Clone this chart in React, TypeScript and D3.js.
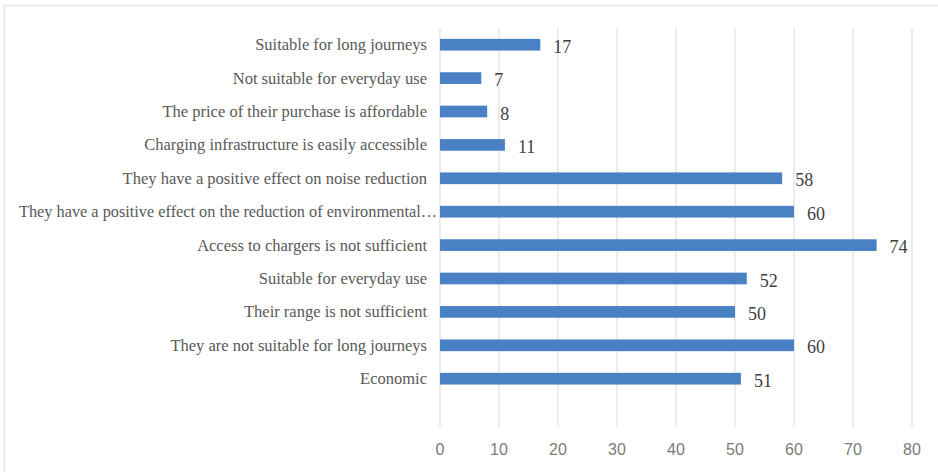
import { useEffect, useRef } from 'react'
import * as d3 from 'd3'

// categories listed top to bottom as they appear in the chart
const categories = [
  'Suitable for long journeys',
  'Not suitable for everyday use',
  'The price of their purchase is affordable',
  'Charging infrastructure is easily accessible',
  'They have a positive effect on noise reduction',
  'They have a positive effect on the reduction of environmental…',
  'Access to chargers is not sufficient',
  'Suitable for everyday use',
  'Their range is not sufficient',
  'They are not suitable for long journeys',
  'Economic',
]
const values = [17, 7, 8, 11, 58, 60, 74, 52, 50, 60, 51]
const xTicks = [0, 10, 20, 30, 40, 50, 60, 70, 80]

const W = 938
const H = 472

export default function App() {
  const ref = useRef<SVGSVGElement | null>(null)

  useEffect(() => {
    const el = ref.current
    if (!el) return
    const svg = d3.select(el)
    svg.selectAll('*').remove()

    const rows = categories.map((c, i) => ({ label: c, value: values[i] }))

    const x = d3.scaleLinear().domain([0, 80]).range([440, 912])
    const step = 33.4
    const top = 28
    const gridBottom = 427
    const y = d3
      .scaleBand<string>()
      .domain(categories)
      .range([top, top + categories.length * step])
      .paddingInner(0.65)
      .paddingOuter(0.325)

    // chart frame
    svg.append('rect')
      .attr('x', 4.5).attr('y', 5.5)
      .attr('width', W).attr('height', H)
      .attr('fill', '#fff')
      .attr('stroke', '#e4e4e4')
      .attr('stroke-width', 1.5)

    // vertical gridlines
    svg.append('g')
      .selectAll('line')
      .data(xTicks)
      .join('line')
      .attr('x1', d => x(d)).attr('x2', d => x(d))
      .attr('y1', top).attr('y2', gridBottom)
      .attr('stroke', '#d9d9d9')
      .attr('stroke-width', 1)

    // tick labels
    svg.append('g')
      .selectAll('text')
      .data(xTicks)
      .join('text')
      .attr('x', d => x(d))
      .attr('y', 455)
      .attr('text-anchor', 'middle')
      .attr('font-family', '"Liberation Sans", Arial, sans-serif')
      .attr('font-size', 16)
      .attr('fill', '#7a7a7a')
      .text(d => d)

    // bars
    svg.append('g')
      .selectAll('rect')
      .data(rows)
      .join('rect')
      .attr('x', x(0))
      .attr('y', d => y(d.label) || 0)
      .attr('width', d => x(d.value) - x(0))
      .attr('height', y.bandwidth())
      .attr('fill', '#4a80c4')

    // category labels (the truncated one is squeezed to fit like the original)
    const labels = svg.append('g')
      .selectAll('text')
      .data(rows)
      .join('text')
      .attr('x', 427)
      .attr('y', d => (y(d.label) || 0) + y.bandwidth() / 2 + 5.5)
      .attr('text-anchor', 'end')
      .attr('font-family', '"Liberation Serif", "Times New Roman", serif')
      .attr('font-size', 16.5)
      .attr('fill', '#595959')
      .text(d => d.label)

    labels.each(function () {
      const t = this as SVGTextElement
      if (t.getComputedTextLength() > 415) {
        d3.select(t)
          .attr('x', 437)
          .attr('textLength', 418)
          .attr('lengthAdjust', 'spacingAndGlyphs')
      }
    })

    // value labels
    svg.append('g')
      .selectAll('text')
      .data(rows)
      .join('text')
      .attr('x', d => x(d.value) + 13)
      .attr('y', d => (y(d.label) || 0) + y.bandwidth() / 2 + 8)
      .attr('font-family', '"Liberation Serif", "Times New Roman", serif')
      .attr('font-size', 18)
      .attr('fill', '#404040')
      .text(d => d.value)
  }, [])

  return (
    <svg
      ref={ref}
      width={W}
      height={H}
      style={{ position: 'absolute', left: 0, top: 0, display: 'block', background: '#fff' }}
    />
  )
}
